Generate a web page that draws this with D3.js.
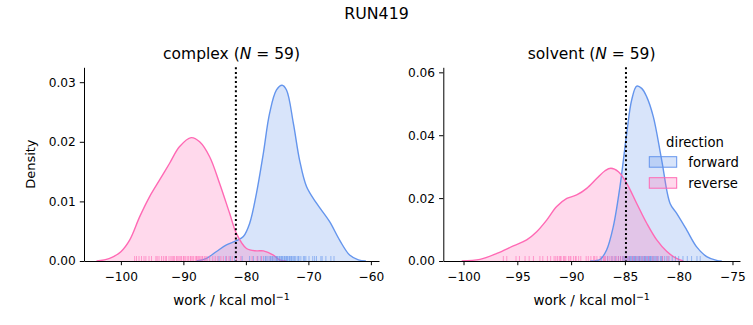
<!DOCTYPE html>
<html><head><meta charset="utf-8">
<script src="https://cdn.jsdelivr.net/npm/d3@7"></script>
<style>body{margin:0;background:#fff} text{font-family:"DejaVu Sans",sans-serif;fill:#000}</style>
</head><body><svg id="c" width="753" height="325"></svg>
<script>
// ---------- data ----------
const suptitle = "RUN419";
const legendTitle = "direction";
const directions = ["forward", "reverse"];
const colors = {forward: "#6495ED", reverse: "#FF69B4"};

const complexXTicks = [-100, -90, -80, -70, -60];
const complexYTicks = [0, 0.01, 0.02, 0.03];
const solventXTicks = [-100, -95, -90, -85, -80, -75];
const solventYTicks = [0, 0.02, 0.04, 0.06];

// KDE curves: [work, density]
const complexForwardKde = [[-87.9,0],[-86.3,0.00045],[-84.7,0.0016],[-83.1,0.0027],[-81.5,0.0034],[-80.4,0.0041],[-79.4,0.0063],[-78.3,0.0114],[-77.2,0.0181],[-76.2,0.0248],[-75.1,0.0287],[-74.2,0.0295],[-73.5,0.0287],[-72.4,0.0231],[-71.4,0.0169],[-70.3,0.0125],[-68.7,0.0097],[-66.6,0.0066],[-65.0,0.0035],[-63.4,0.001],[-62.0,0.0002],[-60.8,0]];
const complexReverseKde = [[-103.9,0],[-101.8,0.00045],[-100,0.00156],[-98.6,0.0035],[-97.0,0.0074],[-95.4,0.0108],[-93.8,0.0136],[-92.2,0.0164],[-90.6,0.0192],[-88.75,0.0207],[-87.4,0.0200],[-85.8,0.0175],[-84.2,0.0130],[-82.6,0.0080],[-81.5,0.0046],[-79.9,0.0021],[-78.3,0.0017],[-77.2,0.0017],[-75.6,0.001],[-74.6,0.0002],[-73.5,0]];
const solventForwardKde = [[-88.24,0],[-87.3,0.0005],[-86.7,0.0035],[-86.08,0.0109],[-85.46,0.0236],[-84.83,0.0406],[-84.37,0.0512],[-83.9,0.0556],[-83.44,0.0549],[-82.97,0.0522],[-82.36,0.0459],[-81.58,0.0321],[-80.8,0.0183],[-80.2,0.0152],[-79.26,0.0099],[-78.33,0.0045],[-77.4,0.0014],[-76.47,0.0002],[-76.0,0]];
const solventReverseKde = [[-100.17,0],[-98.47,0.0005],[-96.9,0.0024],[-95.37,0.0048],[-94.13,0.0067],[-93.2,0.0093],[-92.27,0.013],[-91.34,0.0173],[-90.4,0.0199],[-89.48,0.021],[-88.55,0.0231],[-87.6,0.0263],[-86.85,0.0287],[-86.3,0.0295],[-85.6,0.0284],[-84.83,0.0247],[-83.9,0.0183],[-82.97,0.012],[-82.04,0.0067],[-81.1,0.003],[-80.2,0.0008],[-79.57,0]];

// rug samples (N = 59 each)
const complexForwardWork = [-84.3,-83.2,-82.5,-81.8,-80.6,-79.4,-78.8,-78.1,-77.6,-77.2,-76.9,-76.6,-76.3,-76.0,-75.8,-75.5,-75.3,-75.1,-74.9,-74.7,-74.5,-74.3,-74.1,-73.9,-73.7,-73.5,-73.3,-73.1,-72.9,-72.7,-72.4,-72.1,-71.8,-71.5,-71.2,-70.8,-70.4,-69.9,-69.3,-68.7,-68.0,-67.2,-66.4,-65.9,-76.8,-76.1,-75.7,-75.0,-74.6,-74.2,-73.8,-73.4,-73.0,-72.6,-72.2,-71.6,-70.6,-69.0,-67.8];
const complexReverseWork = [-97.8,-97.5,-97.1,-96.7,-96.3,-96.0,-95.5,-95.1,-94.4,-94.2,-93.9,-93.5,-93.2,-92.9,-92.7,-92.3,-92.0,-91.6,-91.4,-91.1,-90.7,-90.3,-90.0,-89.7,-89.4,-88.9,-88.6,-88.1,-87.9,-87.6,-87.2,-86.9,-86.6,-86.2,-85.8,-85.3,-84.9,-84.5,-84.0,-83.6,-83.1,-82.7,-82.2,-81.5,-80.8,-79.0,-78.2,-77.5,-91.8,-90.9,-90.5,-89.9,-89.2,-88.8,-88.4,-87.8,-87.4,-87.0,-86.4];
const solventForwardWork = [-87.2,-86.6,-86.2,-85.9,-85.6,-85.4,-85.2,-85.0,-84.9,-84.8,-84.7,-84.6,-84.5,-84.4,-84.3,-84.2,-84.1,-84.0,-83.9,-83.8,-83.7,-83.6,-83.5,-83.4,-83.3,-83.2,-83.1,-83.0,-82.9,-82.8,-82.7,-82.6,-82.5,-82.4,-82.3,-82.2,-82.1,-82.0,-81.9,-81.7,-81.5,-81.3,-81.1,-80.9,-80.6,-80.3,-80.0,-79.6,-79.2,-78.8,-78.3,-78.0,-85.1,-84.55,-84.05,-83.65,-83.15,-82.65,-81.6];
const solventReverseWork = [-96.3,-95.98,-95.12,-94.28,-93.5,-92.63,-91.58,-91.42,-91.27,-91.1,-90.93,-90.71,-90.49,-90.24,-90.02,-89.78,-89.53,-89.3,-88.16,-87.9,-87.6,-87.3,-87.0,-86.8,-86.6,-86.4,-86.2,-86.0,-85.8,-85.6,-85.4,-85.2,-85.0,-84.8,-84.6,-84.3,-84.0,-83.7,-83.4,-83.1,-82.8,-82.4,-82.0,-81.5,-81.0,-94.8,-93.9,-92.9,-92.2,-91.9,-91.0,-90.6,-90.1,-89.6,-89.1,-88.6,-88.4,-87.8,-86.9];

// vertical reference lines (dotted)
const complexRef = -81.6;
const solventRef = -84.9;

// ---------- drawing ----------
const svg = d3.select("#c");
svg.append("text").attr("x", 376.5).attr("y", 19).attr("text-anchor", "middle")
  .style("font-size", "15.8px").text(suptitle);

const panels = [
  {name: "complex", n: 59, xd: [-105.9, -58.7], yd: [0, 0.0325], xr: [84, 379],
   xt: complexXTicks, yt: complexYTicks, kde: {forward: complexForwardKde, reverse: complexReverseKde},
   rug: {forward: complexForwardWork, reverse: complexReverseWork}, ref: complexRef, ylabel: true},
  {name: "solvent", n: 59, xd: [-101.88, -74.3], yd: [0, 0.0616], xr: [443.3, 740],
   xt: solventXTicks, yt: solventYTicks, kde: {forward: solventForwardKde, reverse: solventReverseKde},
   rug: {forward: solventForwardWork, reverse: solventReverseWork}, ref: solventRef, ylabel: false}
];
const yr = [261, 67.3];

panels.forEach(p => {
  const x = d3.scaleLinear().domain(p.xd).range(p.xr);
  const y = d3.scaleLinear().domain(p.yd).range(yr);
  const g = svg.append("g");
  const curve = d3.curveCatmullRom.alpha(0.5);

  const area = d3.area().x(d => x(d[0])).y0(y(0)).y1(d => Math.min(y(0), y(d[1]))).curve(curve);
  const line = d3.line().x(d => x(d[0])).y(d => y(d[1])).curve(curve);

  directions.forEach(dir => {
    g.append("path").attr("d", area(p.kde[dir])).attr("fill", colors[dir]).attr("fill-opacity", 0.25);
  });
  directions.forEach(dir => {
    g.append("path").attr("d", line(p.kde[dir])).attr("fill", "none")
      .attr("stroke", colors[dir]).attr("stroke-width", 1.4);
  });
  directions.forEach(dir => {
    g.selectAll(null).data(p.rug[dir]).enter().append("line")
      .attr("x1", d => x(d)).attr("x2", d => x(d))
      .attr("y1", y(0)).attr("y2", y(0) - 5)
      .attr("stroke", colors[dir]).attr("stroke-width", 1).attr("stroke-opacity", 0.6);
  });

  g.append("line").attr("x1", x(p.ref)).attr("x2", x(p.ref)).attr("y1", yr[1]).attr("y2", yr[0])
    .attr("stroke", "#000").attr("stroke-width", 2).attr("stroke-dasharray", "2,2.6");

  const xa = g.append("g").attr("transform", `translate(0,${yr[0]})`)
    .call(d3.axisBottom(x).tickValues(p.xt).tickSize(4.2).tickSizeOuter(0).tickPadding(7).tickFormat(d3.format("d")));
  const ya = g.append("g").attr("transform", `translate(${p.xr[0]},0)`)
    .call(d3.axisLeft(y).tickValues(p.yt).tickSize(4.2).tickSizeOuter(0).tickPadding(4).tickFormat(d3.format(".2f")));
  [xa, ya].forEach(a => {
    a.selectAll("text").style("font-size", "12.2px").style("font-family", "DejaVu Sans").attr("fill", "#000");
    a.selectAll("line").attr("stroke", "#000").attr("stroke-width", 1);
    a.select(".domain").attr("stroke", "#000").attr("stroke-width", 1);
  });

  const cx = (p.xr[0] + p.xr[1]) / 2;
  const t = g.append("text").attr("x", cx).attr("y", 59).attr("text-anchor", "middle").style("font-size", "15.5px");
  t.append("tspan").text(p.name + " (");
  t.append("tspan").style("font-style", "italic").text("N");
  t.append("tspan").text(" = " + p.n + ")");

  const xl = g.append("text").attr("x", cx).attr("y", 305).attr("text-anchor", "middle").style("font-size", "13.5px");
  xl.append("tspan").text("work / kcal mol");
  xl.append("tspan").attr("dy", -5).style("font-size", "9.5px").text("\u22121");

  if (p.ylabel) {
    g.append("text").attr("transform", `translate(35,${(yr[0] + yr[1]) / 2}) rotate(-90)`)
      .attr("text-anchor", "middle").style("font-size", "13px").text("Density");
  }
});

// legend
const lg = svg.append("g");
lg.append("text").attr("x", 695).attr("y", 147).attr("text-anchor", "middle").style("font-size", "13.2px").text(legendTitle);
directions.forEach((dir, i) => {
  const yy = 156.7 + i * 21;
  lg.append("rect").attr("x", 649.3).attr("y", yy).attr("width", 27.4).attr("height", 10.5)
    .attr("fill", colors[dir]).attr("fill-opacity", 0.25).attr("stroke", colors[dir]).attr("stroke-width", 1);
  lg.append("text").attr("x", 688.3).attr("y", yy + 10).style("font-size", "13.2px").text(dir);
});
</script></body></html>
